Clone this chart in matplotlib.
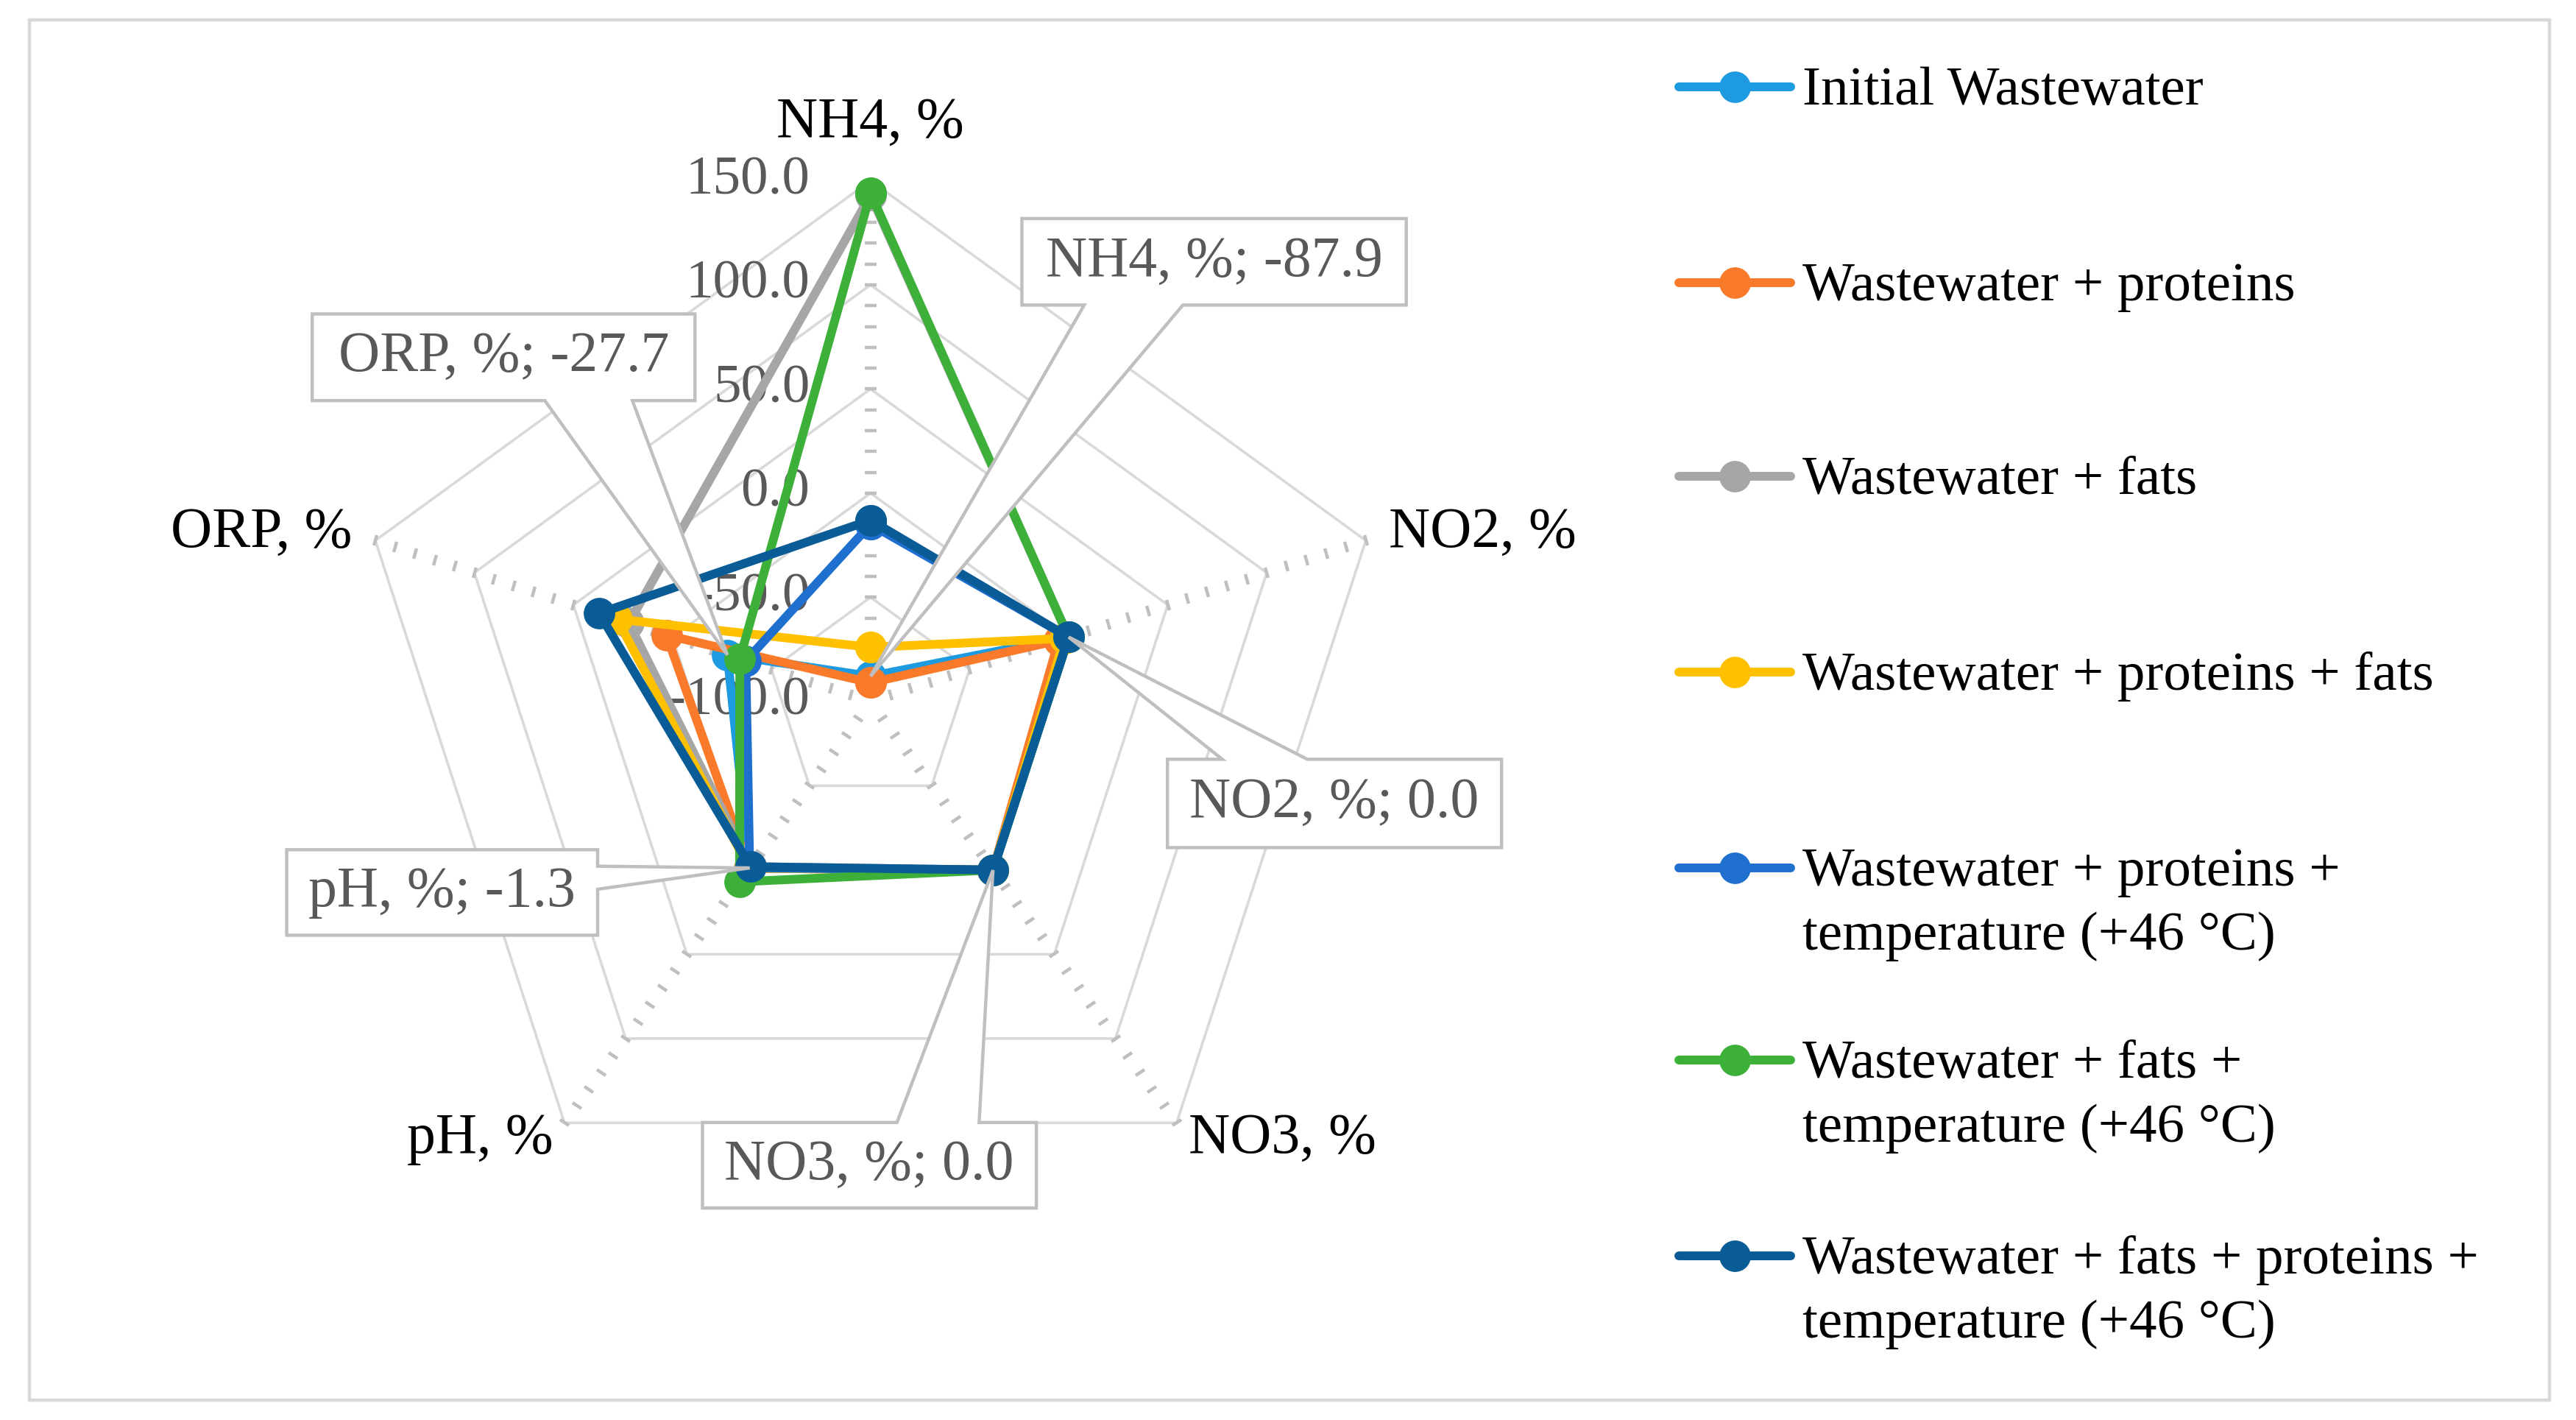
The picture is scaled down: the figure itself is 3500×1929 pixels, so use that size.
import numpy as np
import matplotlib
matplotlib.use("Agg")
import matplotlib.pyplot as plt
from matplotlib.patches import Polygon, Rectangle
from matplotlib.lines import Line2D
from matplotlib.markers import MarkerStyle
from matplotlib.transforms import Affine2D

plt.rcParams['font.family'] = ['Liberation Serif', 'DejaVu Serif']

# ---- data (%) ----
axis_names = ['NH4, %', 'NO2, %', 'NO3, %', 'pH, %', 'ORP, %']
series_names = [
    'Initial Wastewater',
    'Wastewater + proteins',
    'Wastewater + fats',
    'Wastewater + proteins + fats',
    'Wastewater + proteins +\ntemperature (+46 \u00b0C)',
    'Wastewater + fats +\ntemperature (+46 \u00b0C)',
    'Wastewater + fats + proteins +\ntemperature (+46 \u00b0C)',
]
initial = [-87.9, 0.0, 0.0, -1.3, -27.7]
proteins = [-91.0, -5.0, 0.0, -1.0, 3.0]
fats = [143.0, 0.0, 0.0, -2.0, 22.0]
proteins_fats = [-74.0, -2.0, 0.0, -1.0, 28.0]
proteins_temp = [-15.0, 0.0, 0.0, -1.3, -37.0]
fats_temp = [144.0, 0.0, 0.0, 7.0, -34.0]
all_temp = [-13.0, 0.0, 0.0, -2.0, 37.0]
series = [initial, proteins, fats, proteins_fats, proteins_temp, fats_temp, all_temp]
colors = ['#1E9AE0', '#F97A2A', '#A6A6A6', '#FFC000', '#1F6FCF', '#3CB039', '#0A5C97']
r_ticks = [-100, -50, 0, 50, 100, 150]
r_min, r_max = -100, 150

GRID = '#D9D9D9'
TICKC = '#BFBFBF'
TXT = '#595959'

fig = plt.figure(figsize=(17.5, 9.645), dpi=200)
ax = fig.add_axes([0.1358, 0.139, 0.4043, 0.734], projection='polar')
ax.set_theta_zero_location('N')
ax.set_theta_direction(-1)
ax.set_ylim(r_min, r_max)
ax.axis('off')

n = len(axis_names)
theta = np.arange(n) * 2 * np.pi / n
theta_c = np.append(theta, theta[0])

# pentagon gridlines
for v in r_ticks[1:]:
    ax.plot(theta_c, [v] * (n + 1), color=GRID, lw=1.3, zorder=1)

# minor tick marks along every spoke
minor = np.arange(r_min + 10, r_max + 1, 10)
for i, th in enumerate(theta):
    deg = np.degrees(th)
    m = MarkerStyle('_', transform=Affine2D().rotate_deg(-deg))
    ax.plot(np.full(len(minor), th), minor, ls='none', marker=m, ms=5.5,
            mew=1.6, color=TICKC, zorder=1.5, clip_on=False)

# radial tick labels on the first spoke
for v in r_ticks:
    ax.annotate(f'{v:.1f}', xy=(0, v), xytext=(-29.7, 0), textcoords='offset points',
                ha='right', va='center', fontsize=27, color=TXT, zorder=2)

# series
for k, (vals, c) in enumerate(zip(series, colors)):
    ax.plot(theta_c, vals + vals[:1], color=c, lw=4.3, marker='o', ms=14.4,
            clip_on=False, zorder=3 + k * 0.1)

# category labels
label_pos = [(177.6, 'center'), (161.6, 'left'), (159.5, 'left'), (159.5, 'right'), (161.6, 'right')]
for th, name, (r, ha) in zip(theta, axis_names, label_pos):
    ax.text(th, r, name, ha=ha, va='center', fontsize=28, color='black', zorder=6)

# data-label callouts for the initial wastewater series
to_fig = fig.transFigure.inverted()


def callout(idx, box, side, base, text):
    x0, y0, x1, y1 = box
    ax_pt = to_fig.transform(ax.transData.transform((theta[idx], initial[idx])))
    a, b = base
    if side == 'bottom':
        pts = [(x0, y1), (x1, y1), (x1, y0), (b, y0), ax_pt, (a, y0), (x0, y0)]
    elif side == 'top':
        pts = [(x0, y0), (x1, y0), (x1, y1), (b, y1), ax_pt, (a, y1), (x0, y1)]
    else:  # right
        pts = [(x0, y0), (x1, y0), (x1, a), ax_pt, (x1, b), (x1, y1), (x0, y1)]
    fig.add_artist(Polygon(pts, closed=True, transform=fig.transFigure, fc='white',
                           ec=TICKC, lw=1.6, zorder=10, joinstyle='miter'))
    fig.text((x0 + x1) / 2, (y0 + y1) / 2, text, ha='center', va='center',
             fontsize=28, color=TXT, zorder=11)


callout(0, (0.3967, 0.7852, 0.5459, 0.8461), 'bottom', (0.4209, 0.4592),
        f'NH4, %; {initial[0]:.1f}')
callout(4, (0.1212, 0.7179, 0.2698, 0.7789), 'bottom', (0.2115, 0.2455),
        f'ORP, %; {initial[4]:.1f}')
callout(1, (0.4532, 0.4031, 0.5829, 0.4653), 'top', (0.4745, 0.5075),
        f'NO2, %; {initial[1]:.1f}')
callout(3, (0.1113, 0.3414, 0.2320, 0.4016), 'right', (0.3738, 0.3900),
        f'pH, %; {initial[3]:.1f}')
callout(2, (0.2727, 0.1493, 0.4023, 0.2095), 'top', (0.3482, 0.3801),
        f'NO3, %; {initial[2]:.1f}')

# legend (handle level with the first text line)
leg_y = [0.9387, 0.8009, 0.6644, 0.5266, 0.3889, 0.2535, 0.1157]
line_step = 0.0451
for name, c, y in zip(series_names, colors, leg_y):
    fig.add_artist(Line2D([0.6518, 0.6952], [y, y], transform=fig.transFigure,
                          color=c, lw=4.3, solid_capstyle='round'))
    fig.add_artist(Line2D([0.6735], [y], transform=fig.transFigure, marker='o',
                          ms=14.4, color=c))
    for j, line in enumerate(name.split('\n')):
        fig.text(0.6996, y - 0.0125 - j * line_step, line, ha='left', va='baseline',
                 fontsize=27, color='black')

# chart border
fig.add_artist(Rectangle((0.0115, 0.0139), 0.9783, 0.9721, transform=fig.transFigure,
                         fill=False, ec=GRID, lw=1.6))

fig.savefig('out.png', dpi=200)
